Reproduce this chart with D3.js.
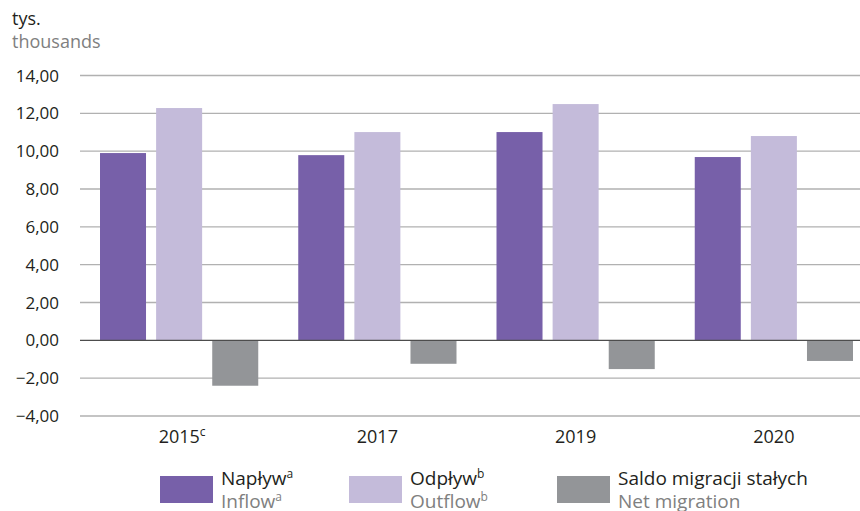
<!DOCTYPE html>
<html>
<head>
<meta charset="utf-8">
<script src="https://cdn.jsdelivr.net/npm/d3@7"></script>
<style>
  body { margin: 0; background: #fff; }
  svg { display: block; font-family: "Open Sans", sans-serif; }
</style>
</head>
<body>
<svg id="chart" width="860" height="511"></svg>
<script>
const years = ["2015", "2017", "2019", "2020"]
const yearSup = ["c", "", "", ""]
const inflow = [9.9, 9.79, 11.01, 9.69]
const outflow = [12.28, 11.01, 12.49, 10.8]
const net = [-2.4, -1.24, -1.52, -1.09]
const yTicks = [-4, -2, 0, 2, 4, 6, 8, 10, 12, 14]

const seriesNames = [
  { pl: "Napływ", en: "Inflow", sup: "a", color: "#7760a9" },
  { pl: "Odpływ", en: "Outflow", sup: "b", color: "#c4bbda" },
  { pl: "Saldo migracji stałych", en: "Net migration", sup: "", color: "#939598" },
]
const seriesValues = [inflow, outflow, net]

const svg = d3.select("#chart")

const x = d3.scaleBand().domain(years).range([80, 873]).paddingInner(0).paddingOuter(0)
const xs = d3.scaleBand().domain([0, 1, 2]).range([20, x.bandwidth() - 20]).paddingInner(0.18).paddingOuter(0)
const y = d3.scaleLinear().domain([-4, 14]).range([416, 75.5])
const fmt = (d) => (d < 0 ? "\u2212" : "") + Math.abs(d).toFixed(2).replace(".", ",")

// gridlines
svg.append("g")
  .selectAll("line")
  .data(yTicks.filter((d) => d !== 0))
  .join("line")
  .attr("x1", 80)
  .attr("x2", 860)
  .attr("y1", (d) => y(d))
  .attr("y2", (d) => y(d))
  .attr("stroke", "#b1b1b1")
  .attr("stroke-width", 1.3)

// y labels
svg.append("g")
  .selectAll("text")
  .data(yTicks)
  .join("text")
  .attr("x", 59)
  .attr("y", (d) => y(d) + 6)
  .attr("text-anchor", "end")
  .attr("font-size", 17)
  .attr("fill", "#231f20")
  .text(fmt)

// bars
const groups = svg.append("g")
  .selectAll("g")
  .data(years)
  .join("g")
  .attr("transform", (d) => `translate(${x(d)},0)`)

groups.selectAll("rect")
  .data((d, i) => seriesValues.map((s, k) => ({ k, v: s[i] })))
  .join("rect")
  .attr("x", (d) => xs(d.k))
  .attr("width", xs.bandwidth())
  .attr("y", (d) => y(Math.max(0, d.v)))
  .attr("height", (d) => Math.abs(y(d.v) - y(0)))
  .attr("fill", (d) => seriesNames[d.k].color)

// zero line
svg.append("line")
  .attr("x1", 80)
  .attr("x2", 860)
  .attr("y1", y(0))
  .attr("y2", y(0))
  .attr("stroke", "#4d4d4d")
  .attr("stroke-width", 1.2)

// x labels
const xl = svg.append("g")
  .selectAll("text")
  .data(years)
  .join("text")
  .attr("x", (d, i) => x(d) + 20 + (x.bandwidth() - 40) / 2 + (yearSup[i] ? 3 : 0))
  .attr("y", 443)
  .attr("text-anchor", "middle")
  .attr("font-size", 18)
  .attr("fill", "#231f20")
xl.append("tspan").text((d) => d)
xl.filter((d, i) => yearSup[i])
  .append("tspan")
  .attr("dy", -7)
  .attr("font-size", 12)
  .text((d) => yearSup[years.indexOf(d)])

// unit labels
svg.append("text").attr("x", 12).attr("y", 25).attr("font-size", 18).attr("fill", "#231f20").text("tys.")
svg.append("text").attr("x", 12).attr("y", 48).attr("font-size", 18).attr("fill", "#808080").text("thousands")

// legend
const legX = [160, 349, 557]
const leg = svg.append("g")
  .selectAll("g")
  .data(seriesNames)
  .join("g")
  .attr("transform", (d, i) => `translate(${legX[i]},0)`)
leg.append("rect")
  .attr("x", 0)
  .attr("y", 476)
  .attr("width", 53)
  .attr("height", 27)
  .attr("fill", (d) => d.color)
const t1 = leg.append("text").attr("x", 61).attr("y", 485).attr("font-size", 19).attr("fill", "#231f20")
t1.append("tspan").text((d) => d.pl)
t1.append("tspan").attr("dy", -7).attr("font-size", 12).text((d) => d.sup)
const t2 = leg.append("text").attr("x", 61).attr("y", 508).attr("font-size", 19).attr("fill", "#808080")
t2.append("tspan").text((d) => d.en)
t2.append("tspan").attr("dy", -7).attr("font-size", 12).text((d) => d.sup)
</script>
</body>
</html>
